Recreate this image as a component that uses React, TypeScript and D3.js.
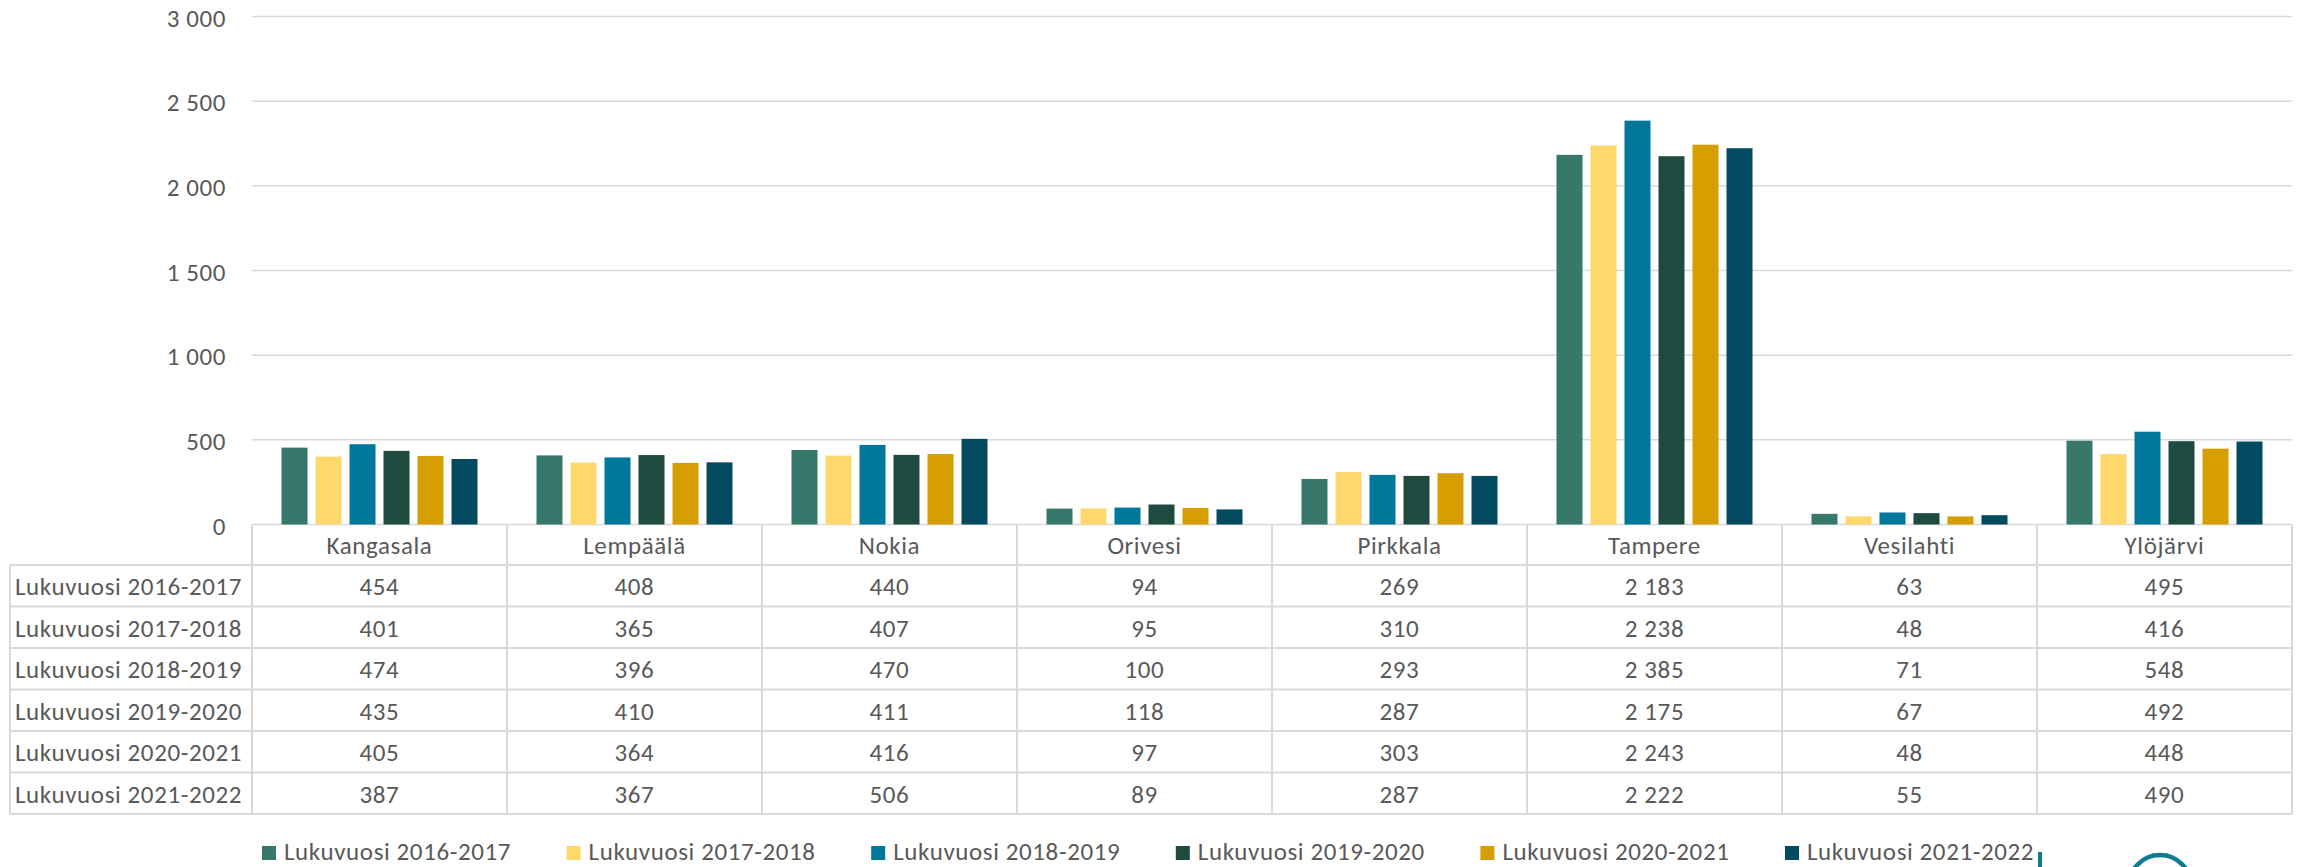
import React from 'react';
import * as d3 from 'd3';

const municipalities = ['Kangasala', 'Lempäälä', 'Nokia', 'Orivesi', 'Pirkkala', 'Tampere', 'Vesilahti', 'Ylöjärvi'];
const seriesNames = [
  'Lukuvuosi 2016-2017',
  'Lukuvuosi 2017-2018',
  'Lukuvuosi 2018-2019',
  'Lukuvuosi 2019-2020',
  'Lukuvuosi 2020-2021',
  'Lukuvuosi 2021-2022',
];
const v2016 = [454, 408, 440, 94, 269, 2183, 63, 495];
const v2017 = [401, 365, 407, 95, 310, 2238, 48, 416];
const v2018 = [474, 396, 470, 100, 293, 2385, 71, 548];
const v2019 = [435, 410, 411, 118, 287, 2175, 67, 492];
const v2020 = [405, 364, 416, 97, 303, 2243, 48, 448];
const v2021 = [387, 367, 506, 89, 287, 2222, 55, 490];
const yTicks = [0, 500, 1000, 1500, 2000, 2500, 3000];

const seriesValues = [v2016, v2017, v2018, v2019, v2020, v2021];
const colors = ['#37786A', '#FFD86B', '#00789B', '#1F4A40', '#D69E00', '#024A60'];

const W = 2303, H = 867;
const plotLeft = 252, plotRight = 2292;
const yZero = 524.5, yTop = 16.5;
const headerBottom = 565;
const rowH = 41.5;
const tableLeft = 10;
const font = 'Calibri, Carlito, Lato, sans-serif';
const fs = 25;
const ls = 0.6;
const textColor = '#595959';
const gridColor = '#D9D9D9';

const fi = d3.formatLocale({ decimal: ',', thousands: ' ', grouping: [3], currency: ['', ''] });
const fmt = fi.format(',d');

export default function App() {
  const x = d3.scaleBand<string>().domain(municipalities).range([plotLeft, plotRight]).padding(0);
  const inner = d3.scaleBand<string>()
    .domain(seriesNames)
    .range([29.5, x.bandwidth() - 29.5])
    .paddingInner(8 / 34)
    .paddingOuter(0);
  const y = d3.scaleLinear().domain([0, 3000]).range([yZero, yTop]);

  const tableBottom = headerBottom + rowH * seriesNames.length;
  const legendX = d3.scalePoint<string>().domain(seriesNames).range([262, 262 + 304.6 * 5]);

  return (
    <svg width={W} height={H} style={{ position: 'absolute', left: 0, top: 0, background: '#fff' }}
      fontFamily={font} letterSpacing={ls}>
      {/* gridlines + y labels */}
      {yTicks.map(t => (
        <g key={t}>
          <line x1={plotLeft} x2={plotRight} y1={y(t)} y2={y(t)} stroke={gridColor} strokeWidth={1.5} />
          <text x={226} y={y(t)} dy="0.4em" textAnchor="end" fontSize={fs} fill={textColor}>{fmt(t)}</text>
        </g>
      ))}

      {/* bars */}
      {municipalities.map((m, ci) => (
        <g key={m} transform={`translate(${x(m)},0)`}>
          {seriesNames.map((s, si) => {
            const v = seriesValues[si][ci];
            return (
              <rect key={s} x={inner(s)} width={inner.bandwidth()} y={y(v)} height={yZero - y(v)} fill={colors[si]} />
            );
          })}
        </g>
      ))}

      {/* data table */}
      <g stroke={gridColor} strokeWidth={2} fill="none">
        {municipalities.map(m => (
          <line key={m} x1={x(m)} x2={x(m)} y1={yZero} y2={tableBottom} />
        ))}
        <line x1={plotRight} x2={plotRight} y1={yZero} y2={tableBottom} />
        <line x1={tableLeft} x2={tableLeft} y1={headerBottom} y2={tableBottom} />
        {d3.range(seriesNames.length + 1).map(i => (
          <line key={i} x1={tableLeft} x2={plotRight} y1={headerBottom + i * rowH} y2={headerBottom + i * rowH} />
        ))}
      </g>
      {municipalities.map(m => (
        <text key={m} x={x(m)! + x.bandwidth() / 2} y={(yZero + headerBottom) / 2} dy="0.38em"
          textAnchor="middle" fontSize={fs} fill={textColor}>{m}</text>
      ))}
      {seriesNames.map((s, si) => {
        const cy = headerBottom + si * rowH + rowH / 2;
        return (
          <g key={s}>
            <text x={15} y={cy} dy="0.37em" fontSize={fs} fill={textColor}>{s}</text>
            {municipalities.map((m, ci) => (
              <text key={m} x={x(m)! + x.bandwidth() / 2} y={cy} dy="0.37em" textAnchor="middle"
                fontSize={fs} fill={textColor}>{fmt(seriesValues[si][ci])}</text>
            ))}
          </g>
        );
      })}

      {/* legend */}
      {seriesNames.map((s, i) => (
        <g key={s} transform={`translate(${legendX(s)},846)`}>
          <rect width={14} height={14} fill={colors[i]} />
          <text x={22} y={14} fontSize={fs} fill={textColor}>{s}</text>
        </g>
      ))}

      {/* partial logo at bottom right */}
      <line x1={2040} x2={2040} y1={852} y2={H} stroke="#0E7C91" strokeWidth={4} />
      <circle cx={2160} cy={886} r={31} fill="none" stroke="#0E7C91" strokeWidth={4.5} />
    </svg>
  );
}
